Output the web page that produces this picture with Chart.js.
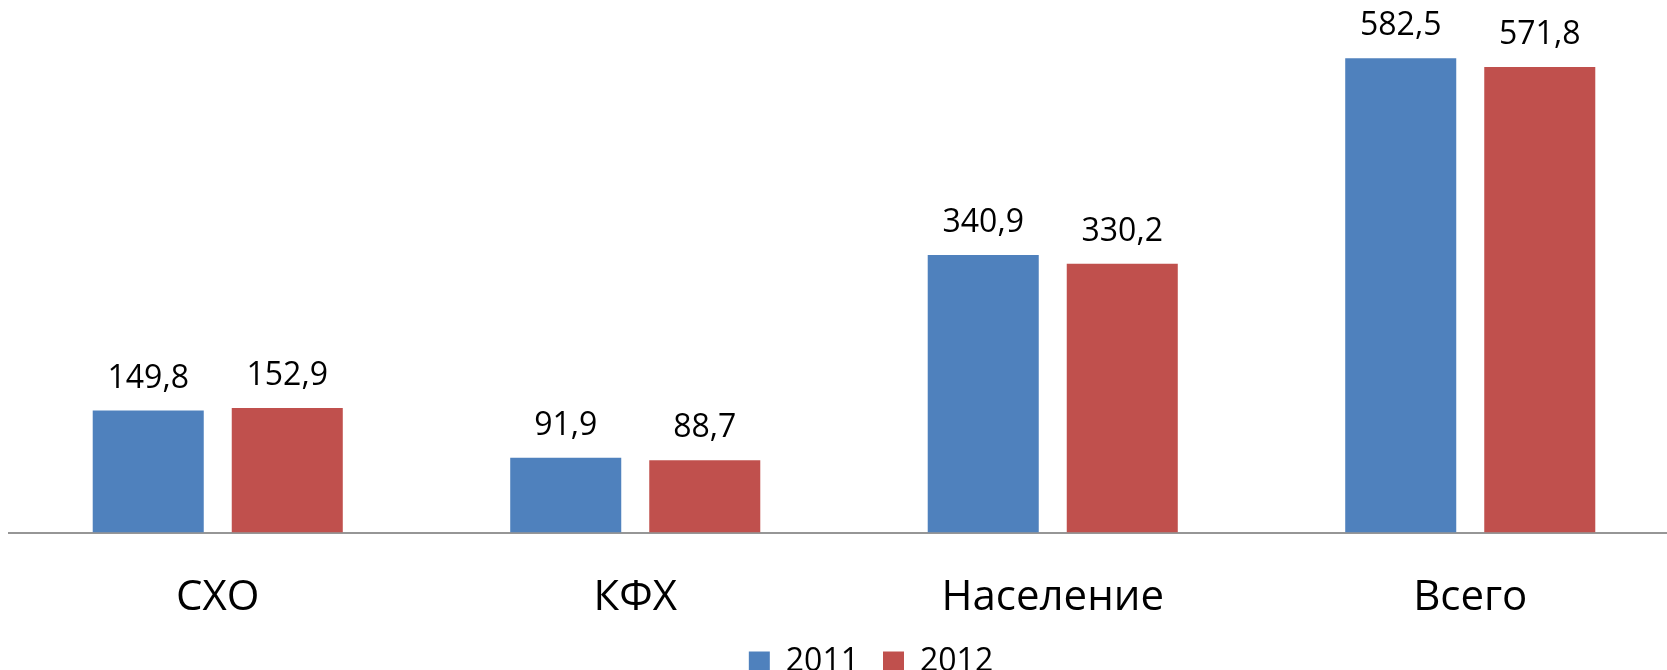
<!DOCTYPE html>
<html>
<head>
<meta charset="utf-8">
<script src="https://cdn.jsdelivr.net/npm/chart.js@4/dist/chart.umd.min.js"></script>
<style>
  html, body { margin: 0; padding: 0; background: #ffffff; overflow: hidden; }
  #wrap { position: absolute; left: 0; top: 0; width: 1680px; height: 690px; }
</style>
</head>
<body>
<div id="wrap"><canvas id="c" width="1680" height="690"></canvas></div>
<script>
const categories = ['СХО', 'КФХ', 'Население', 'Всего'];
const seriesNames = ['2011', '2012'];
const values2011 = [149.8, 91.9, 340.9, 582.5];
const values2012 = [152.9, 88.7, 330.2, 571.8];
const colors = ['#4F81BD', '#C0504D'];

const valueLabels = {
  id: 'valueLabels',
  afterDatasetsDraw(chart) {
    const ctx = chart.ctx;
    ctx.save();
    ctx.font = '32px "Open Sans"';
    ctx.fillStyle = '#000000';
    ctx.textAlign = 'center';
    ctx.textBaseline = 'alphabetic';
    chart.data.datasets.forEach((ds, di) => {
      const meta = chart.getDatasetMeta(di);
      meta.data.forEach((bar, i) => {
        const txt = ds.data[i].toFixed(1).replace('.', ',');
        ctx.fillText(txt, bar.x, bar.y - 23);
      });
    });
    ctx.restore();
  }
};

const legendShift = {
  id: 'legendShift',
  afterLayout(chart) {
    const l = chart.legend;
    if (l) { l.left += 27; l.right += 27; l.top -= 2; l.bottom -= 2; }
  }
};

new Chart(document.getElementById('c'), {
  type: 'bar',
  data: {
    labels: categories,
    datasets: [
      { label: seriesNames[0], data: values2011, backgroundColor: colors[0],
        barPercentage: 0.7986, categoryPercentage: 0.666 },
      { label: seriesNames[1], data: values2012, backgroundColor: colors[1],
        barPercentage: 0.7986, categoryPercentage: 0.666 }
    ]
  },
  options: {
    responsive: false,
    animation: false,
    layout: { padding: { left: 9, right: 1, top: 44, bottom: 0 } },
    scales: {
      x: {
        grid: { display: false, drawTicks: false },
        border: { display: true, color: '#969696', width: 2 },
        ticks: { color: '#000000', font: { family: 'Open Sans', size: 42 }, padding: 40 },
        afterFit(scale) { scale.height -= 39; }
      },
      y: {
        display: false,
        min: 0,
        max: 600
      }
    },
    plugins: {
      legend: {
        position: 'bottom',
        labels: {
          boxWidth: 21, boxHeight: 21, color: '#000000',
          font: { family: 'Open Sans', size: 32 }, padding: 24
        }
      },
      tooltip: { enabled: false }
    }
  },
  plugins: [valueLabels, legendShift]
});
</script>
</body>
</html>
